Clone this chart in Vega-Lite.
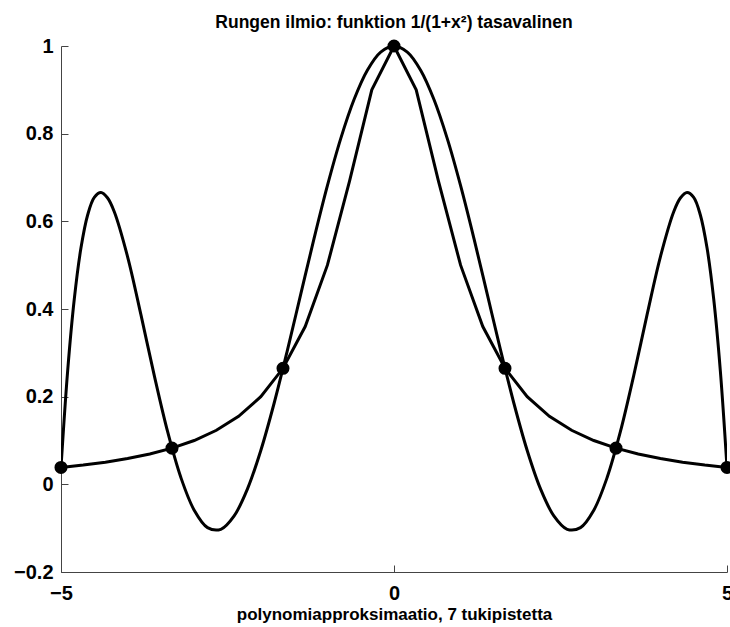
{
  "$schema": "https://vega.github.io/schema/vega-lite/v6.json",
  "width": 666,
  "height": 526,
  "autosize": {"type": "none"},
  "padding": {"left": 61, "top": 46, "right": 3, "bottom": 55},
  "background": "white",
  "config": {
    "font": "Liberation Sans",
    "view": {"stroke": null},
    "axis": {
      "domainColor": "#444444",
      "domainWidth": 1,
      "tickColor": "#444444",
      "tickSize": -7,
      "labelPadding": 15,
      "labelFlush": false,
      "labelFont": "Liberation Sans",
      "labelFontWeight": "bold",
      "labelFontSize": 20,
      "labelColor": "black",
      "titleFont": "Liberation Sans",
      "titleFontWeight": "bold",
      "titleFontSize": 17,
      "titleColor": "black",
      "grid": false
    }
  },
  "title": {
    "text": "Rungen ilmio: funktion 1/(1+x²) tasavalinen",
    "font": "Liberation Sans",
    "fontSize": 17.5,
    "fontWeight": "bold",
    "color": "black",
    "anchor": "middle",
    "offset": 5
  },
  "datasets": {
    "poly": [
      {"x": -5.0, "y": 0.038462}, {"x": -4.9, "y": 0.258918}, {"x": -4.8, "y": 0.423348}, {"x": -4.7, "y": 0.539505},
      {"x": -4.6, "y": 0.614501}, {"x": -4.5, "y": 0.654643}, {"x": -4.4, "y": 0.66578}, {"x": -4.3, "y": 0.653232},
      {"x": -4.2, "y": 0.621899}, {"x": -4.0, "y": 0.519118}, {"x": -3.8, "y": 0.387077}, {"x": -3.6, "y": 0.248524},
      {"x": -3.4, "y": 0.120595}, {"x": -3.2, "y": 0.015489}, {"x": -3.0, "y": -0.059009}, {"x": -2.8, "y": -0.098726},
      {"x": -2.6, "y": -0.102575}, {"x": -2.4, "y": -0.071994}, {"x": -2.2, "y": -0.010405}, {"x": -2.0, "y": 0.077255},
      {"x": -1.8, "y": 0.184995}, {"x": -1.6, "y": 0.30616}, {"x": -1.4, "y": 0.433813}, {"x": -1.2, "y": 0.561058},
      {"x": -1.0, "y": 0.681327}, {"x": -0.8, "y": 0.788642}, {"x": -0.6, "y": 0.877816}, {"x": -0.4, "y": 0.944637},
      {"x": -0.2, "y": 0.986}, {"x": 0.0, "y": 1.0},
      {"x": 0.2, "y": 0.986}, {"x": 0.4, "y": 0.944637}, {"x": 0.6, "y": 0.877816}, {"x": 0.8, "y": 0.788642},
      {"x": 1.0, "y": 0.681327}, {"x": 1.2, "y": 0.561058}, {"x": 1.4, "y": 0.433813}, {"x": 1.6, "y": 0.30616},
      {"x": 1.8, "y": 0.184995}, {"x": 2.0, "y": 0.077255}, {"x": 2.2, "y": -0.010405}, {"x": 2.4, "y": -0.071994},
      {"x": 2.6, "y": -0.102575}, {"x": 2.8, "y": -0.098726}, {"x": 3.0, "y": -0.059009}, {"x": 3.2, "y": 0.015489},
      {"x": 3.4, "y": 0.120595}, {"x": 3.6, "y": 0.248524}, {"x": 3.8, "y": 0.387077}, {"x": 4.0, "y": 0.519118},
      {"x": 4.2, "y": 0.621899}, {"x": 4.3, "y": 0.653232}, {"x": 4.4, "y": 0.66578}, {"x": 4.5, "y": 0.654643},
      {"x": 4.6, "y": 0.614501}, {"x": 4.7, "y": 0.539505}, {"x": 4.8, "y": 0.423348}, {"x": 4.9, "y": 0.258918},
      {"x": 5.0, "y": 0.038462}
    ],
    "runge": [
      {"x": -5.0, "y": 0.038462}, {"x": -4.6667, "y": 0.043902}, {"x": -4.3333, "y": 0.050562}, {"x": -4.0, "y": 0.058824},
      {"x": -3.6667, "y": 0.069231}, {"x": -3.3333, "y": 0.082569}, {"x": -3.0, "y": 0.1}, {"x": -2.6667, "y": 0.123288},
      {"x": -2.3333, "y": 0.155172}, {"x": -2.0, "y": 0.2}, {"x": -1.6667, "y": 0.264706}, {"x": -1.3333, "y": 0.36},
      {"x": -1.0, "y": 0.5}, {"x": -0.6667, "y": 0.692308}, {"x": -0.3333, "y": 0.9}, {"x": 0.0, "y": 1.0},
      {"x": 0.3333, "y": 0.9}, {"x": 0.6667, "y": 0.692308}, {"x": 1.0, "y": 0.5}, {"x": 1.3333, "y": 0.36},
      {"x": 1.6667, "y": 0.264706}, {"x": 2.0, "y": 0.2}, {"x": 2.3333, "y": 0.155172}, {"x": 2.6667, "y": 0.123288},
      {"x": 3.0, "y": 0.1}, {"x": 3.3333, "y": 0.082569}, {"x": 3.6667, "y": 0.069231}, {"x": 4.0, "y": 0.058824},
      {"x": 4.3333, "y": 0.050562}, {"x": 4.6667, "y": 0.043902}, {"x": 5.0, "y": 0.038462}
    ],
    "nodes": [
      {"x": -5.0, "y": 0.038462}, {"x": -3.3333, "y": 0.082569}, {"x": -1.6667, "y": 0.264706}, {"x": 0.0, "y": 1.0},
      {"x": 1.6667, "y": 0.264706}, {"x": 3.3333, "y": 0.082569}, {"x": 5.0, "y": 0.038462}
    ]
  },
  "encoding": {
    "x": {
      "field": "x", "type": "quantitative",
      "scale": {"domain": [-5, 5], "nice": false, "zero": false},
      "axis": {"values": [-5, 0, 5], "title": "polynomiapproksimaatio, 7 tukipistetta", "titlePadding": 3, "labelPadding": 18}
    },
    "y": {
      "field": "y", "type": "quantitative",
      "scale": {"domain": [-0.2, 1], "nice": false, "zero": false},
      "axis": {"values": [-0.2, 0, 0.2, 0.4, 0.6, 0.8, 1], "title": null, "format": "~g"}
    }
  },
  "layer": [
    {"data": {"name": "poly"}, "mark": {"type": "line", "color": "black", "strokeWidth": 3, "interpolate": "catmull-rom", "clip": true}},
    {"data": {"name": "runge"}, "mark": {"type": "line", "color": "black", "strokeWidth": 3, "clip": true}},
    {"data": {"name": "nodes"}, "mark": {"type": "point", "filled": true, "color": "black", "opacity": 1, "size": 170, "shape": "circle"}}
  ]
}
